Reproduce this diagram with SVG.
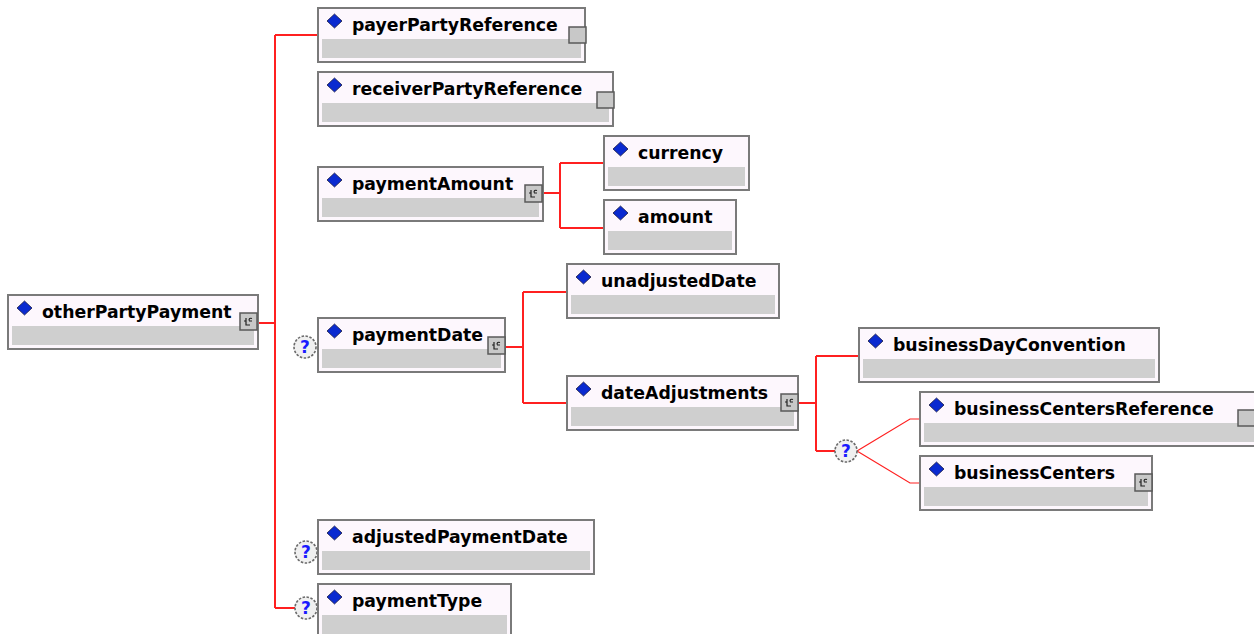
<svg xmlns="http://www.w3.org/2000/svg" width="1254" height="634" viewBox="0 0 1254 634">
<defs>
<style>
.box{fill:#fdf7fd;stroke:#7a7a7a;stroke-width:2}
.band{fill:#cfcfcf}
.lbl{font-family:"DejaVu Sans",Verdana,sans-serif;font-weight:bold;font-size:17.3px;fill:#000}
.dia{fill:#0a2ad0;stroke:#1a1a40;stroke-width:0.8}
.ico{fill:#c8c8c8;stroke:#5a5a5a;stroke-width:1.5}
.glyph{fill:none;stroke:#202020;stroke-width:1.2}
.con{fill:none;stroke:#ff2020;stroke-width:2}
.thin{fill:none;stroke:#ff2020;stroke-width:1.2}
.opt{fill:#f0f0f0;stroke:#6a6a6a;stroke-width:1.6;stroke-dasharray:2.5 1.5}
.q{font-family:"DejaVu Sans",Verdana,sans-serif;font-weight:bold;font-size:17px;fill:#1a1aff;text-anchor:middle}
</style>
<path id="diamond" class="dia" d="M0,-7 L7.5,0 L0,7 L-7.5,0 Z"/>
<g id="cplx"><rect class="ico" x="0" y="0" width="17" height="17"/><path class="glyph" d="M6,5 v7 h4 M6,8 h-2 M12,5.5 q-3,-1 -3,2 M9,8 h3"/></g>
<rect id="ref" class="ico" x="0" y="0" width="17" height="16"/>
</defs>

<g id="connectors">
<path class="con" d="M258,323 H275 M275,35 V608 M275,35 H318 M275,608 H295"/>
<path class="con" d="M543,193 H560 M560,163 V228 M560,163 H604 M560,228 H604"/>
<path class="con" d="M505,347 H523 M523,292 V403 M523,292 H567 M523,403 H567"/>
<path class="con" d="M798,403 H816 M816,356 V451 M816,356 H859 M816,451 H835"/>
<path class="thin" d="M857,451 L910,419 H920 M857,451 L910,483 H920"/>
</g>

<g id="otherPartyPayment">
<rect class="box" x="8" y="295" width="250" height="54"/><rect class="band" x="12" y="326" width="242" height="19"/>
<use href="#diamond" x="24.5" y="308"/><text class="lbl" x="42" y="318">otherPartyPayment</text>
<use href="#cplx" x="240" y="313"/>
</g>

<g id="payerPartyReference">
<rect class="box" x="318" y="8" width="267" height="54"/><rect class="band" x="322" y="39" width="259" height="19"/>
<use href="#diamond" x="334.5" y="21"/><text class="lbl" x="352" y="31">payerPartyReference</text>
<use href="#ref" x="569" y="27"/>
</g>

<g id="receiverPartyReference">
<rect class="box" x="318" y="72" width="295" height="54"/><rect class="band" x="322" y="103" width="287" height="19"/>
<use href="#diamond" x="334.5" y="85"/><text class="lbl" x="352" y="95">receiverPartyReference</text>
<use href="#ref" x="597" y="92"/>
</g>

<g id="paymentAmount">
<rect class="box" x="318" y="167" width="225" height="54"/><rect class="band" x="322" y="198" width="217" height="19"/>
<use href="#diamond" x="334.5" y="180"/><text class="lbl" x="352" y="190">paymentAmount</text>
<use href="#cplx" x="525" y="185"/>
</g>

<g id="currency">
<rect class="box" x="604" y="136" width="145" height="54"/><rect class="band" x="608" y="167" width="137" height="19"/>
<use href="#diamond" x="620.5" y="149"/><text class="lbl" x="638" y="159">currency</text>
</g>

<g id="amount">
<rect class="box" x="604" y="200" width="132" height="54"/><rect class="band" x="608" y="231" width="124" height="19"/>
<use href="#diamond" x="620.5" y="213"/><text class="lbl" x="638" y="223">amount</text>
</g>

<g id="paymentDate">
<circle class="opt" cx="305" cy="347" r="11"/><text class="q" x="305" y="353">?</text>
<rect class="box" x="318" y="318" width="187" height="54"/><rect class="band" x="322" y="349" width="179" height="19"/>
<use href="#diamond" x="334.5" y="331"/><text class="lbl" x="352" y="341">paymentDate</text>
<use href="#cplx" x="488" y="337"/>
</g>

<g id="unadjustedDate">
<rect class="box" x="567" y="264" width="212" height="54"/><rect class="band" x="571" y="295" width="204" height="19"/>
<use href="#diamond" x="583.5" y="277"/><text class="lbl" x="601" y="287">unadjustedDate</text>
</g>

<g id="dateAdjustments">
<rect class="box" x="567" y="376" width="231" height="54"/><rect class="band" x="571" y="407" width="223" height="19"/>
<use href="#diamond" x="583.5" y="389"/><text class="lbl" x="601" y="399">dateAdjustments</text>
<use href="#cplx" x="781" y="394"/>
</g>

<g id="businessDayConvention">
<rect class="box" x="859" y="328" width="300" height="54"/><rect class="band" x="863" y="359" width="292" height="19"/>
<use href="#diamond" x="875.5" y="341"/><text class="lbl" x="893" y="351">businessDayConvention</text>
</g>

<g id="choice">
<circle class="opt" cx="846" cy="451" r="11"/><text class="q" x="846" y="457">?</text>
</g>

<g id="businessCentersReference">
<rect class="box" x="920" y="392" width="336" height="54"/><rect class="band" x="924" y="423" width="330" height="19"/>
<use href="#diamond" x="936.5" y="405"/><text class="lbl" x="954" y="415">businessCentersReference</text>
<use href="#ref" x="1238" y="410"/>
</g>

<g id="businessCenters">
<rect class="box" x="920" y="456" width="232" height="54"/><rect class="band" x="924" y="487" width="224" height="19"/>
<use href="#diamond" x="936.5" y="469"/><text class="lbl" x="954" y="479">businessCenters</text>
<use href="#cplx" x="1135" y="474"/>
</g>

<g id="adjustedPaymentDate">
<circle class="opt" cx="306" cy="552" r="11"/><text class="q" x="306" y="558">?</text>
<rect class="box" x="318" y="520" width="276" height="54"/><rect class="band" x="322" y="551" width="268" height="19"/>
<use href="#diamond" x="334.5" y="533"/><text class="lbl" x="352" y="543">adjustedPaymentDate</text>
</g>

<g id="paymentType">
<circle class="opt" cx="306" cy="608" r="11"/><text class="q" x="306" y="614">?</text>
<rect class="box" x="318" y="584" width="193" height="54"/><rect class="band" x="322" y="615" width="185" height="19"/>
<use href="#diamond" x="334.5" y="597"/><text class="lbl" x="352" y="607">paymentType</text>
</g>
</svg>
